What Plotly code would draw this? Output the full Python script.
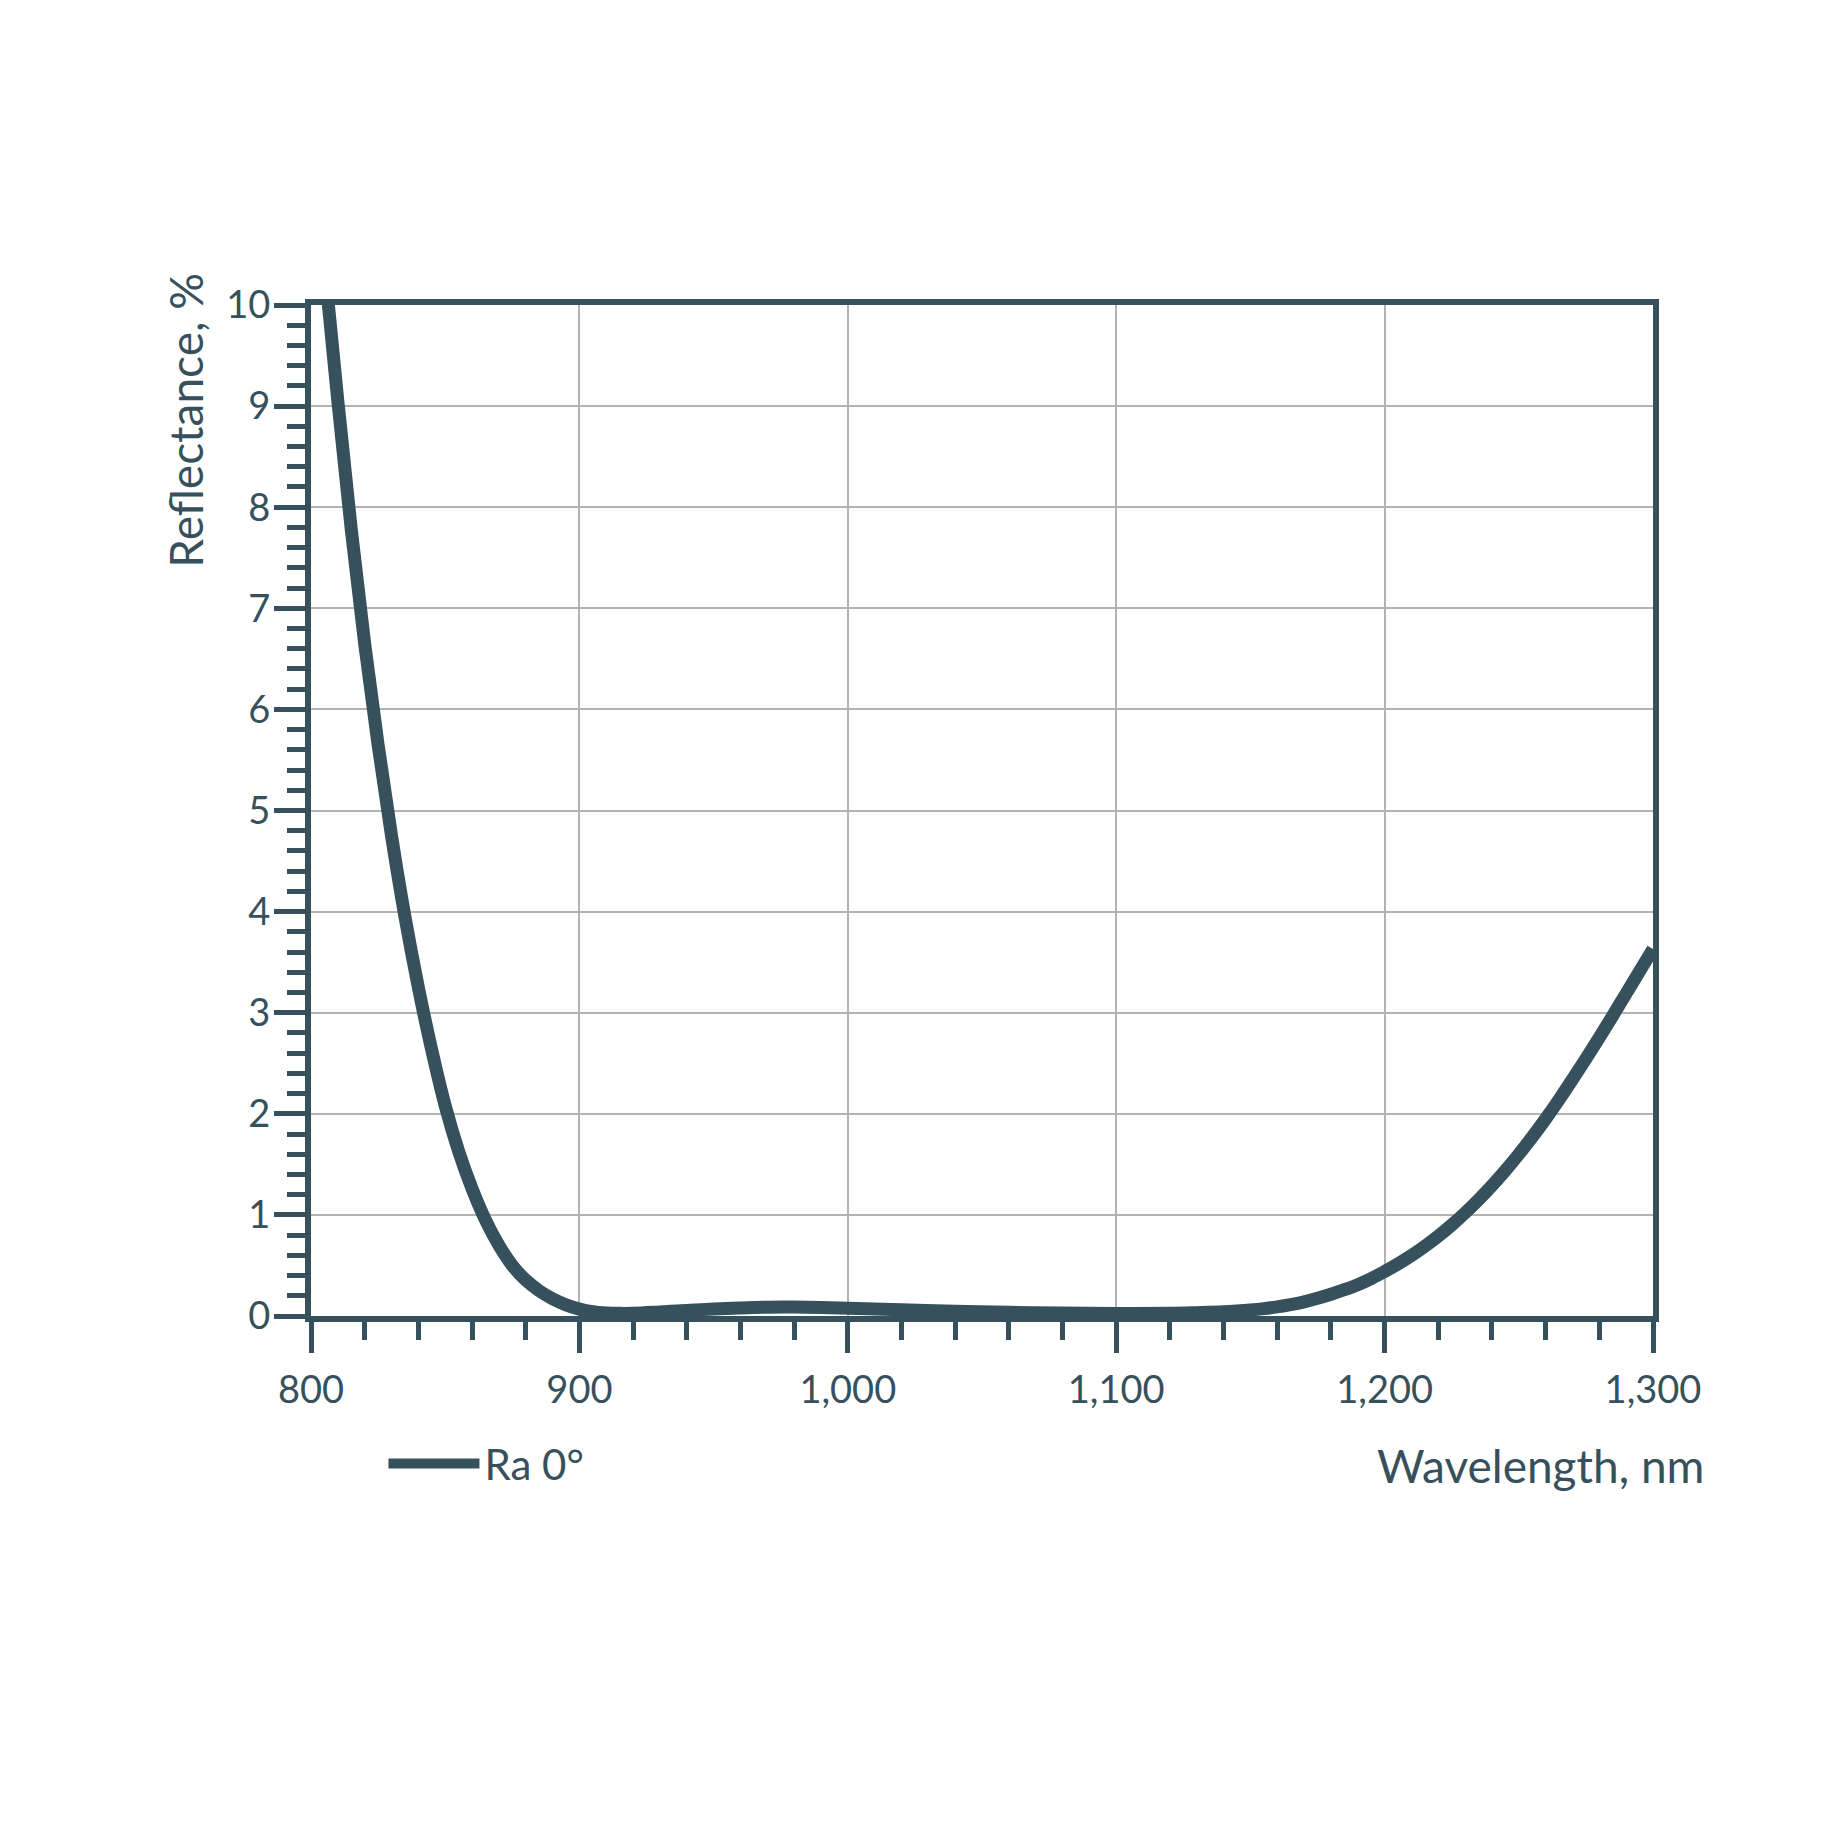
import plotly.graph_objects as go

# Reflectance curve (nm, %)
wavelength = [800, 805, 810, 815, 820, 825, 830, 835, 840, 845, 850, 855, 860, 865,
              870, 875, 880, 885, 890, 895, 900, 905, 910, 915, 920, 930, 940, 950,
              960, 970, 980, 990, 1000, 1020, 1040, 1060, 1080, 1100, 1120, 1130, 1140,
              1145, 1150, 1155, 1160, 1165, 1170, 1175, 1180, 1185, 1190, 1195, 1200,
              1205, 1210, 1215, 1220, 1225, 1230, 1235, 1240, 1245, 1250, 1255, 1260,
              1265, 1270, 1275, 1280, 1285, 1290, 1295, 1300]
reflectance = [11.8, 10.4, 9.05, 7.78, 6.65, 5.65, 4.75, 3.95, 3.25, 2.63, 2.08, 1.63, 1.26, 0.95,
               0.70, 0.50, 0.355, 0.25, 0.17, 0.11, 0.068, 0.042, 0.03, 0.026, 0.027, 0.04, 0.055, 0.07,
               0.08, 0.087, 0.088, 0.084, 0.077, 0.062, 0.048, 0.037, 0.029, 0.024, 0.026, 0.033, 0.042,
               0.05, 0.06, 0.073, 0.09, 0.112, 0.14, 0.175, 0.215, 0.26, 0.31, 0.37, 0.44,
               0.515, 0.598, 0.69, 0.79, 0.90, 1.02, 1.15, 1.29, 1.44, 1.60, 1.77, 1.95,
               2.14, 2.34, 2.545, 2.755, 2.97, 3.19, 3.41, 3.63]
series_name = "Ra 0°"

dark = "#36505c"
grid = "#b3b3b3"
font_family = "Lato"

fig = go.Figure()
fig.add_trace(go.Scatter(x=wavelength, y=reflectance, mode="lines", name=series_name,
                         line=dict(color=dark, width=13, shape="spline", smoothing=1.0)))

fig.update_layout(
    width=1848, height=1848,
    margin=dict(l=303, r=203, t=297, b=540, autoexpand=False),
    paper_bgcolor="white", plot_bgcolor="white",
    font=dict(family=font_family, color=dark, size=38),
    showlegend=True,
    legend=dict(x=0.054, y=-0.146, xanchor="left", yanchor="middle",
                font=dict(size=42, color=dark), itemwidth=91,
                bgcolor="rgba(0,0,0,0)"),
)

fig.update_xaxes(range=[800, 1300], dtick=100, tickformat=",",
                 showline=True, mirror=True, linewidth=6, linecolor=dark,
                 showgrid=True, gridcolor=grid, gridwidth=2, zeroline=False,
                 ticks="outside", ticklen=31, tickwidth=5, tickcolor=dark,
                 tickfont=dict(size=38, color=dark), ticklabelstandoff=4,
                 minor=dict(dtick=20, ticks="outside", ticklen=18, tickwidth=5,
                            tickcolor=dark, showgrid=False))
fig.update_yaxes(range=[0, 10], dtick=1,
                 showline=True, mirror=True, linewidth=6, linecolor=dark,
                 showgrid=True, gridcolor=grid, gridwidth=2, zeroline=False,
                 ticks="outside", ticklen=31, tickwidth=5, tickcolor=dark,
                 tickfont=dict(size=38, color=dark), ticklabelstandoff=-4,
                 minor=dict(dtick=0.2, ticks="outside", ticklen=18, tickwidth=5,
                            tickcolor=dark, showgrid=False))

fig.add_annotation(text="Reflectance, %", xref="paper", yref="paper",
                   x=-0.0935, y=1.034, xanchor="center", yanchor="top",
                   textangle=-90, showarrow=False, font=dict(size=46, color=dark))
fig.add_annotation(text="Wavelength, nm", xref="paper", yref="paper",
                   x=1.0395, y=-0.1475, xanchor="right", yanchor="middle",
                   showarrow=False, font=dict(size=46, color=dark))

fig.write_html("out.html")
